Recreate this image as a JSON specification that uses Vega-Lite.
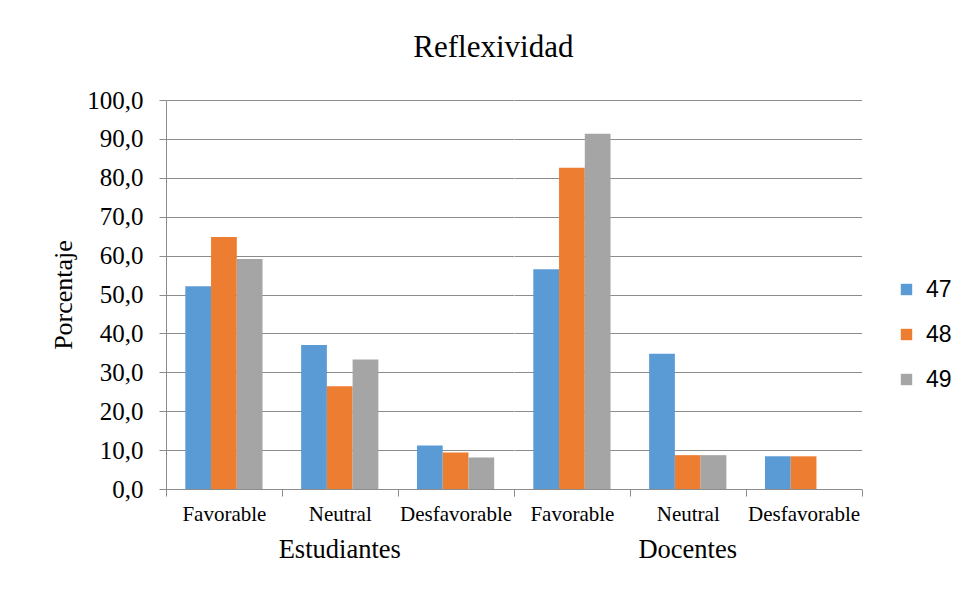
{
  "$schema": "https://vega.github.io/schema/vega-lite/v6.json",
  "padding": {"left": 50, "top": 32, "right": 5, "bottom": 5},
  "background": "#ffffff",
  "title": {
    "text": "Reflexividad",
    "font": "Liberation Serif",
    "fontSize": 31,
    "fontWeight": "normal",
    "color": "#000000",
    "anchor": "middle",
    "offset": 24,
    "dx": -8
  },
  "data": {
    "values": [
      {"grupo": "Estudiantes", "categoria": "Favorable", "serie": "47", "valor": 52.1},
      {"grupo": "Estudiantes", "categoria": "Favorable", "serie": "48", "valor": 64.8},
      {"grupo": "Estudiantes", "categoria": "Favorable", "serie": "49", "valor": 59.1},
      {"grupo": "Estudiantes", "categoria": "Neutral", "serie": "47", "valor": 37.0},
      {"grupo": "Estudiantes", "categoria": "Neutral", "serie": "48", "valor": 26.4},
      {"grupo": "Estudiantes", "categoria": "Neutral", "serie": "49", "valor": 33.3},
      {"grupo": "Estudiantes", "categoria": "Desfavorable", "serie": "47", "valor": 11.2},
      {"grupo": "Estudiantes", "categoria": "Desfavorable", "serie": "48", "valor": 9.4},
      {"grupo": "Estudiantes", "categoria": "Desfavorable", "serie": "49", "valor": 8.1},
      {"grupo": "Docentes", "categoria": "Favorable", "serie": "47", "valor": 56.5},
      {"grupo": "Docentes", "categoria": "Favorable", "serie": "48", "valor": 82.6},
      {"grupo": "Docentes", "categoria": "Favorable", "serie": "49", "valor": 91.3},
      {"grupo": "Docentes", "categoria": "Neutral", "serie": "47", "valor": 34.8},
      {"grupo": "Docentes", "categoria": "Neutral", "serie": "48", "valor": 8.7},
      {"grupo": "Docentes", "categoria": "Neutral", "serie": "49", "valor": 8.7},
      {"grupo": "Docentes", "categoria": "Desfavorable", "serie": "47", "valor": 8.4},
      {"grupo": "Docentes", "categoria": "Desfavorable", "serie": "48", "valor": 8.4},
      {"grupo": "Docentes", "categoria": "Desfavorable", "serie": "49", "valor": 0}
    ]
  },
  "facet": {
    "column": {
      "field": "grupo",
      "type": "nominal",
      "sort": ["Estudiantes", "Docentes"],
      "title": null,
      "header": {
        "labelOrient": "bottom",
        "labelFont": "Liberation Serif",
        "labelFontSize": 26.5,
        "labelColor": "#000000",
        "labelPadding": 13
      }
    }
  },
  "spacing": 0,
  "spec": {
    "width": 347.5,
    "height": 389,
    "mark": {"type": "bar"},
    "encoding": {
      "x": {
        "field": "categoria",
        "type": "nominal",
        "sort": ["Favorable", "Neutral", "Desfavorable"],
        "scale": {"paddingInner": 0, "paddingOuter": 0},
        "axis": {
          "title": null,
          "labelAngle": 0,
          "labelFont": "Liberation Serif",
          "labelFontSize": 21,
          "labelColor": "#000000",
          "labelPadding": 7,
          "tickBand": "extent",
          "tickSize": 7,
          "tickColor": "#8c8c8c",
          "domainColor": "#8c8c8c",
          "grid": false
        }
      },
      "xOffset": {
        "field": "serie",
        "type": "nominal",
        "scale": {"paddingInner": 0, "paddingOuter": 0.75}
      },
      "y": {
        "field": "valor",
        "type": "quantitative",
        "scale": {"domain": [0, 100], "nice": false},
        "axis": {
          "title": "Porcentaje",
          "titleFont": "Liberation Serif",
          "titleFontSize": 26,
          "titleFontWeight": "normal",
          "titleColor": "#000000",
          "titlePadding": 10,
          "values": [0, 10, 20, 30, 40, 50, 60, 70, 80, 90, 100],
          "labelExpr": "replace(format(datum.value, '.1f'), '.', ',')",
          "labelFont": "Liberation Serif",
          "labelFontSize": 25,
          "labelColor": "#000000",
          "labelPadding": 16,
          "tickSize": 7,
          "tickColor": "#8c8c8c",
          "domainColor": "#8c8c8c",
          "gridColor": "#8c8c8c",
          "gridWidth": 1
        }
      },
      "color": {
        "field": "serie",
        "type": "nominal",
        "scale": {"domain": ["47", "48", "49"], "range": ["#5b9bd5", "#ed7d31", "#a5a5a5"]},
        "legend": {
          "title": null,
          "orient": "none",
          "legendX": 729,
          "legendY": 178,
          "symbolType": "square",
          "symbolSize": 130,
          "symbolStrokeWidth": 0,
          "labelFont": "Liberation Sans",
          "labelFontSize": 23,
          "labelColor": "#000000",
          "labelOffset": 8,
          "rowPadding": 21
        }
      }
    }
  },
  "config": {
    "view": {"stroke": null},
    "axis": {"domainWidth": 1, "tickWidth": 1}
  }
}
